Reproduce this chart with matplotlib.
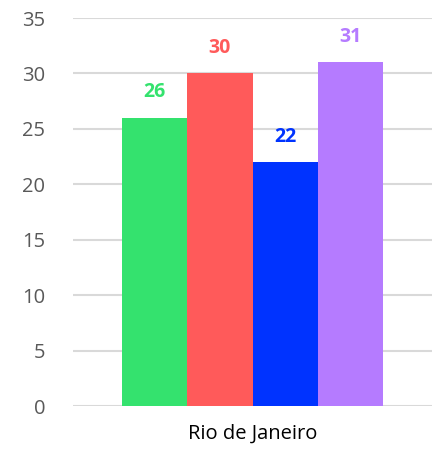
import matplotlib.pyplot as plt
import numpy as np

category = "Rio de Janeiro"
series_values = [26, 30, 22, 31]
colors = ["#34E26E", "#FF5A5A", "#0033FF", "#B57BFF"]
y_ticks = [0, 5, 10, 15, 20, 25, 30, 35]

plt.rcParams['font.family'] = ['Open Sans', 'DejaVu Sans']

fig = plt.figure(figsize=(4.34, 4.49), dpi=100)
ax = fig.add_axes([73 / 434, 1 - 406 / 449, 359 / 434, 388 / 449])

n = len(series_values)
group_width = 0.727
bar_w = group_width / n
offsets = (np.arange(n) - (n - 1) / 2) * bar_w

for off, val, col in zip(offsets, series_values, colors):
    ax.bar(off, val, width=bar_w, color=col, zorder=3)
    ax.text(off, val + 2.3, str(val), ha='center', va='center',
            color=col, fontsize=14, fontweight='bold')

ax.set_xlim(-0.5, 0.5)
ax.set_ylim(0, 35)
ax.set_yticks(y_ticks)
ax.set_xticks([0])
ax.set_xticklabels([category])
ax.tick_params(axis='both', length=0, labelsize=14.5, labelcolor='#595959')
ax.tick_params(axis='y', pad=20)
ax.tick_params(axis='x', pad=13, labelcolor='black')
ax.yaxis.grid(True, color='#d9d9d9', linewidth=1.5, zorder=0)
for s in ax.spines.values():
    s.set_visible(False)

plt.savefig("out.png", dpi=100)
